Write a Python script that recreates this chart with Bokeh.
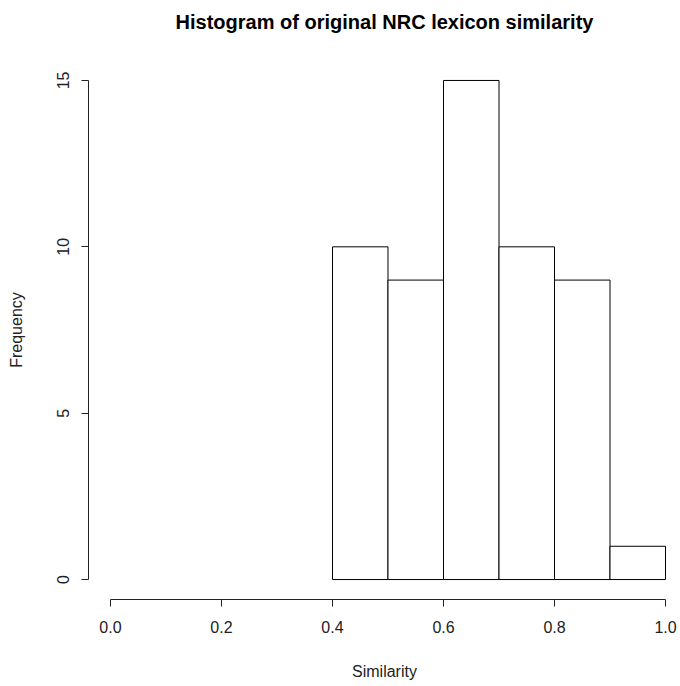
from bokeh.plotting import figure
from bokeh.models import Range1d, FixedTicker, LinearAxis
from bokeh.embed import file_html
from bokeh.resources import INLINE

title_text = "Histogram of original NRC lexicon similarity"
x_label = "Similarity"
y_label = "Frequency"
bin_left = [0.4, 0.5, 0.6, 0.7, 0.8, 0.9]
bin_right = [0.5, 0.6, 0.7, 0.8, 0.9, 1.0]
counts = [10, 9, 15, 10, 9, 1]
x_ticks = [0.0, 0.2, 0.4, 0.6, 0.8, 1.0]
y_ticks = [0, 5, 10, 15]

FONT = "Liberation Sans"

p = figure(width=680, height=686, output_backend="svg", toolbar_location=None,
           x_range=Range1d(-0.0396, 1.027), y_range=Range1d(-0.6, 15.6),
           min_border_left=88, min_border_right=0, min_border_top=60,
           min_border_bottom=87)
p.outline_line_color = None
p.xgrid.visible = False
p.ygrid.visible = False
p.background_fill_color = "white"
p.border_fill_color = "white"

xax = p.below[0]
yax = p.left[0]

p.quad(left=bin_left, right=bin_right, bottom=0, top=counts,
       fill_color="white", line_color="black", line_width=1)

for ax in (xax, yax):
    ax.minor_tick_line_color = None
    ax.major_tick_in = 0
    ax.major_tick_out = 7
    ax.axis_line_color = "#222222"
    ax.major_tick_line_color = "#222222"
    ax.major_label_text_font = FONT
    ax.major_label_text_font_size = "16px"
    ax.major_label_text_color = "#222222"
    ax.axis_label_text_font = FONT
    ax.axis_label_text_font_size = "16px"
    ax.axis_label_text_font_style = "normal"
    ax.axis_label_text_color = "#222222"

xax.ticker = FixedTicker(ticks=x_ticks)
xax.bounds = (0, 1)
xax.major_label_overrides = {t: f"{t:.1f}" for t in x_ticks}
xax.major_label_standoff = 14
xax.axis_label = x_label
xax.axis_label_standoff = 27

yax.ticker = FixedTicker(ticks=y_ticks)
yax.bounds = (0, 15)
yax.major_label_orientation = "vertical"
yax.major_label_standoff = 12
yax.axis_label = y_label
yax.axis_label_standoff = 30

# title drawn as the label of a blank axis above the frame
title_axis = LinearAxis(ticker=FixedTicker(ticks=[]), axis_line_color=None,
                        major_tick_line_color=None, minor_tick_line_color=None,
                        major_tick_out=0, major_tick_in=0,
                        minor_tick_out=0, minor_tick_in=0,
                        major_label_text_font_size="0px",
                        axis_label=title_text, axis_label_standoff=28,
                        axis_label_text_font=FONT,
                        axis_label_text_font_size="20px",
                        axis_label_text_font_style="bold",
                        axis_label_text_color="black")
p.add_layout(title_axis, "above")

open("out.html", "w").write(file_html(p, INLINE))
